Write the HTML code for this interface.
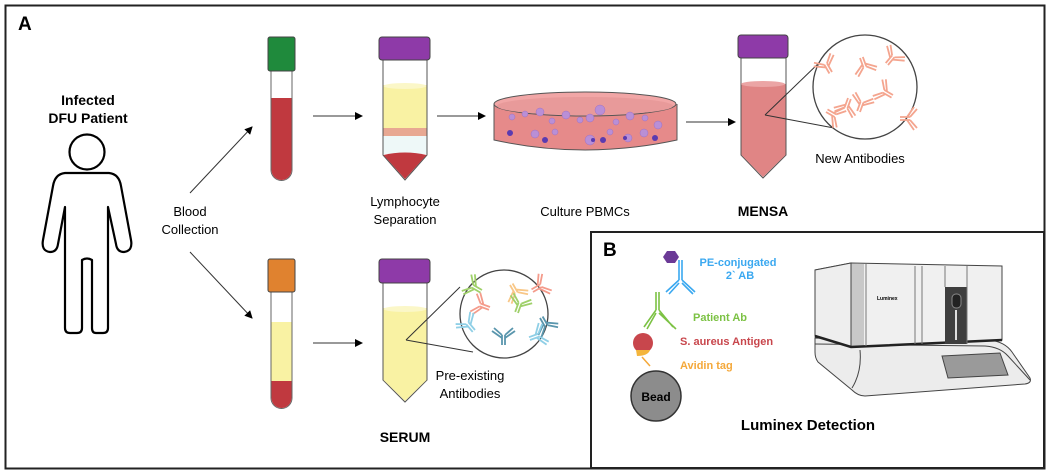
<!DOCTYPE html>
<html><head><meta charset="utf-8"><style>
html,body{margin:0;padding:0;background:#fff}
svg{display:block}
text{font-family:"Liberation Sans",Arial,sans-serif}
</style></head><body>
<svg width="1050" height="474" viewBox="0 0 1050 474" xmlns="http://www.w3.org/2000/svg">
<defs>
<marker id="ah" markerWidth="8" markerHeight="8" refX="7" refY="4" orient="auto" markerUnits="userSpaceOnUse"><path d="M0,0 L8,4 L0,8 z" fill="#000"/></marker>
<g id="ab"><path d="M0,0 L0,-10 M-3,0 L-3,-10 M0,-10 L8,-17 M-3,-10 L-11,-17 M0,-7 L10,-14 M-3,-7 L-13,-14" fill="none" stroke-width="1.8"/></g>
</defs>
<rect x="5.5" y="5.5" width="1039" height="463" fill="#fff" stroke="#222" stroke-width="2"/>
<rect x="591" y="232" width="453" height="236" fill="#fff" stroke="#222" stroke-width="2"/>
<text x="18" y="30" font-size="19" font-weight="bold">A</text>
<text x="603" y="256" font-size="19" font-weight="bold">B</text>

<!-- patient -->
<text x="88" y="105" font-size="14" font-weight="bold" text-anchor="middle">Infected</text>
<text x="88" y="123" font-size="14" font-weight="bold" text-anchor="middle">DFU Patient</text>
<circle cx="87" cy="152" r="17.5" fill="none" stroke="#000" stroke-width="2.2"/>
<path d="M65,173 L109,173 Q119,174 121,186 L131,240 Q133,251 124,252 Q117,252 116,244 L108,207 L108,328 Q108,333 103,333 L96,333 Q92,333 92,328 L92,260 Q87,257 82,260 L82,328 Q82,333 77,333 L70,333 Q65,333 65,328 L65,207 L58,244 Q57,252 50,252 Q41,251 43,240 L53,186 Q55,174 65,173 Z" fill="#fff" stroke="#000" stroke-width="2.2" stroke-linejoin="round"/>

<text x="190" y="216" font-size="13" text-anchor="middle">Blood</text>
<text x="190" y="234" font-size="13" text-anchor="middle">Collection</text>
<line x1="190" y1="193" x2="252" y2="127" stroke="#333" stroke-width="1" marker-end="url(#ah)"/>
<line x1="190" y1="252" x2="252" y2="318" stroke="#333" stroke-width="1" marker-end="url(#ah)"/>

<!-- green tube -->
<path d="M271,70 L271,170 A10.5,10.5 0 0 0 292,170 L292,70" fill="#fff" stroke="#666"/>
<path d="M271.5,98 L291.5,98 L291.5,170 A10,10 0 0 1 271.5,170 Z" fill="#c0393f"/>
<rect x="268" y="37" width="27" height="34" rx="2" fill="#1f8a3c" stroke="#444"/>
<line x1="313" y1="116" x2="362" y2="116" stroke="#333" marker-end="url(#ah)"/>

<!-- falcon 1 -->
<path d="M383,60 L383,155 L405,180 L427,155 L427,60" fill="#fff" stroke="#555"/>
<rect x="383.5" y="85" width="43" height="45" fill="#f9f2a3"/>
<ellipse cx="405" cy="86" rx="21.5" ry="3" fill="#fbf7c8"/>
<rect x="383.5" y="128" width="43" height="8" fill="#e8a892"/>
<rect x="383.5" y="136" width="43" height="18" fill="#eef8f8"/>
<path d="M383.5,155 Q405,150 426.5,155 L405,179 Z" fill="#c0393f"/>
<rect x="379" y="37" width="51" height="23" rx="3" fill="#8e3aa8" stroke="#444"/>
<text x="405" y="206" font-size="13" text-anchor="middle">Lymphocyte</text>
<text x="405" y="224" font-size="13" text-anchor="middle">Separation</text>
<line x1="437" y1="116" x2="485" y2="116" stroke="#333" marker-end="url(#ah)"/>

<!-- petri -->
<path d="M494,104 L494,140 Q585,160 677,140 L677,104" fill="#e68a8a" stroke="#555"/>
<ellipse cx="585" cy="104" rx="91" ry="12" fill="#f1a6a6" stroke="#555"/>
<ellipse cx="585" cy="106" rx="88" ry="9" fill="#e89a9a"/>
<g fill="#b98fd6" stroke="#a070c0" stroke-width="0.5">
<circle cx="512" cy="117" r="3"/><circle cx="525" cy="114" r="3"/><circle cx="540" cy="112" r="4"/><circle cx="552" cy="121" r="3"/><circle cx="566" cy="115" r="4"/><circle cx="580" cy="120" r="3"/><circle cx="600" cy="110" r="5"/><circle cx="616" cy="122" r="3"/><circle cx="630" cy="116" r="4"/><circle cx="645" cy="118" r="3"/><circle cx="658" cy="125" r="4"/><circle cx="535" cy="134" r="4"/><circle cx="555" cy="132" r="3"/><circle cx="590" cy="140" r="5"/><circle cx="610" cy="132" r="3"/><circle cx="628" cy="138" r="4"/><circle cx="590" cy="118" r="4"/><circle cx="644" cy="133" r="4"/>
</g>
<g fill="#5a3bb0"><circle cx="510" cy="133" r="3"/><circle cx="545" cy="140" r="3"/><circle cx="593" cy="140" r="2"/><circle cx="603" cy="140" r="3"/><circle cx="655" cy="138" r="3"/><circle cx="625" cy="138" r="2"/></g>
<text x="585" y="216" font-size="13" text-anchor="middle">Culture PBMCs</text>
<line x1="686" y1="122" x2="735" y2="122" stroke="#333" marker-end="url(#ah)"/>

<!-- MENSA tube -->
<path d="M741,57 L741,155 L763,178 L786,155 L786,57" fill="#fff" stroke="#555"/>
<path d="M741.5,84 L785.5,84 L785.5,155 L763,177 L741.5,155 Z" fill="#e08585"/>
<ellipse cx="763" cy="84" rx="22" ry="3" fill="#eba5a5"/>
<rect x="738" y="35" width="50" height="23" rx="3" fill="#8e3aa8" stroke="#444"/>
<path d="M765,115 L822,60 M765,115 L834,128" stroke="#333" fill="none"/>
<circle cx="865" cy="87" r="52" fill="#fff" stroke="#444" stroke-width="1.3"/>
<g stroke="#f4a58f">
<use href="#ab" x="832" y="72" transform="rotate(-30 832 72)"/>
<use href="#ab" x="860" y="58" transform="rotate(160 860 58)"/>
<use href="#ab" x="888" y="65" transform="rotate(40 888 65)"/>
<use href="#ab" x="848" y="98" transform="rotate(200 848 98)"/>
<use href="#ab" x="893" y="95" transform="rotate(-60 893 95)"/>
<use href="#ab" x="860" y="112" transform="rotate(20 860 112)"/>
<use href="#ab" x="900" y="120" transform="rotate(90 900 120)"/>
<use href="#ab" x="826" y="112" transform="rotate(120 826 112)"/>
</g>
<text x="860" y="163" font-size="13" text-anchor="middle">New Antibodies</text>
<text x="763" y="216" font-size="14" font-weight="bold" text-anchor="middle">MENSA</text>

<!-- orange tube -->
<path d="M271,292 L271,398 A10.5,10.5 0 0 0 292,398 L292,292" fill="#fff" stroke="#666"/>
<rect x="271.5" y="322" width="20" height="60" fill="#f9f2a3"/>
<path d="M271.5,381 L291.5,381 L291.5,398 A10,10 0 0 1 271.5,398 Z" fill="#c0393f"/>
<rect x="268" y="259" width="27" height="33" rx="2" fill="#e0822f" stroke="#444"/>
<line x1="313" y1="343" x2="362" y2="343" stroke="#333" marker-end="url(#ah)"/>

<!-- serum tube -->
<path d="M383,283 L383,380 L405,402 L427,380 L427,283" fill="#fff" stroke="#555"/>
<path d="M383.5,308 L426.5,308 L426.5,380 L405,401 L383.5,380 Z" fill="#f9f2a3"/>
<ellipse cx="405" cy="309" rx="21.5" ry="3" fill="#fbf7c8"/>
<rect x="379" y="259" width="51" height="24" rx="3" fill="#8e3aa8" stroke="#444"/>
<path d="M406,340 L460,287 M406,340 L473,352" stroke="#333" fill="none"/>
<circle cx="504" cy="314" r="44" fill="#fff" stroke="#444" stroke-width="1.3"/>
<use href="#ab" x="482" y="290" stroke="#9fd06a" transform="rotate(-60 482 290)"/>
<use href="#ab" x="510" y="285" stroke="#f8c787" transform="rotate(150 510 285)"/>
<use href="#ab" x="533" y="292" stroke="#f49b8b" transform="rotate(60 533 292)"/>
<use href="#ab" x="490" y="307" stroke="#f49b8b" transform="rotate(-70 490 307)"/>
<use href="#ab" x="518" y="313" stroke="#9fd06a" transform="rotate(20 518 313)"/>
<use href="#ab" x="540" y="318" stroke="#5a96ad" transform="rotate(150 540 318)"/>
<use href="#ab" x="475" y="330" stroke="#8fcfe6" transform="rotate(-40 475 330)"/>
<use href="#ab" x="505" y="345" stroke="#5a96ad" transform="rotate(0 505 345)"/>
<use href="#ab" x="530" y="340" stroke="#8fcfe6" transform="rotate(70 530 340)"/>
<text x="470" y="380" font-size="13" text-anchor="middle">Pre-existing</text>
<text x="470" y="398" font-size="13" text-anchor="middle">Antibodies</text>
<text x="405" y="442" font-size="14" font-weight="bold" text-anchor="middle">SERUM</text>

<!-- Panel B -->
<polygon points="667,251 675,251 679,257 675,263 667,263 663,257" fill="#6b3a96"/>
<path d="M679,260 L679,280 M682,260 L682,280 M679,280 L666,292 M682,280 L695,292 M679,283 L669,294 M682,283 L693,294" stroke="#3aa8f0" stroke-width="1.6" fill="none"/>
<path d="M656,292 L656,310 M659,292 L659,310 M656,310 L644,327 M659,310 L673,327 M656,313 L647,329 M659,313 L676,329" stroke="#7cc244" stroke-width="1.6" fill="none"/>
<circle cx="643" cy="343" r="10" fill="#c8464c"/>
<path d="M637,356 Q648,356 650,350 L636,350 Z" fill="#f4b53c"/>
<path d="M642,357 L650,366" stroke="#f4a83a" stroke-width="1.5"/>
<circle cx="656" cy="396" r="25" fill="#8c8c8c" stroke="#333" stroke-width="1.5"/>
<text x="656" y="401" font-size="12" font-weight="bold" text-anchor="middle">Bead</text>
<text x="738" y="266" font-size="11" font-weight="bold" fill="#3aa8f0" text-anchor="middle">PE-conjugated</text>
<text x="740" y="279" font-size="11" font-weight="bold" fill="#3aa8f0" text-anchor="middle">2` AB</text>
<text x="693" y="321" font-size="11" font-weight="bold" fill="#7cc244">Patient Ab</text>
<text x="680" y="345" font-size="11" font-weight="bold" fill="#c8464c">S. aureus Antigen</text>
<text x="680" y="369" font-size="11" font-weight="bold" fill="#f4a83a">Avidin tag</text>

<!-- Luminex machine -->
<!-- base -->
<path d="M815,338 L990,340 Q1005,342 1012,352 L1030,378 Q1032,383 1025,384 L865,396 Q858,396 852,390 L818,362 Q815,358 815,352 Z" fill="#ececec" stroke="#444"/>
<path d="M815,344 L985,346 Q1000,347 1008,356 L1030,380" fill="none" stroke="#444"/>
<path d="M852,388 Q862,372 860,350" fill="none" stroke="#444"/>
<path d="M942,356 L1000,353 L1008,375 L948,378 Z" fill="#9a9a9a" stroke="#444"/>
<!-- top -->
<path d="M815,270 L851,263 L1002,266 L1002,340 L851,347 L815,336 Z" fill="#f0f0f0" stroke="#444"/>
<rect x="846" y="264" width="18" height="82" fill="#c8c8c8"/>
<path d="M815,270 L851,263 L851,347 L815,336 Z" fill="#eeeeee" stroke="#444"/>
<path d="M815,336 L851,347 L1002,340" fill="none" stroke="#222" stroke-width="2.5"/>
<rect x="945" y="287" width="22" height="57" fill="#3e3e3e"/>
<rect x="952" y="294" width="9" height="14" rx="4" fill="#222" stroke="#888"/>
<line x1="956" y1="310" x2="956" y2="340" stroke="#ddd" stroke-width="2"/>
<line x1="915" y1="266" x2="915" y2="344" stroke="#777"/>
<line x1="922" y1="266" x2="922" y2="344" stroke="#777"/>
<line x1="866" y1="264" x2="866" y2="346" stroke="#777"/>
<line x1="945" y1="266" x2="945" y2="287" stroke="#777"/>
<line x1="967" y1="266" x2="967" y2="344" stroke="#777"/>
<text x="877" y="300" font-size="5" font-weight="bold">Luminex</text>
<text x="808" y="430" font-size="15" font-weight="bold" text-anchor="middle">Luminex Detection</text>
</svg>
</body></html>
